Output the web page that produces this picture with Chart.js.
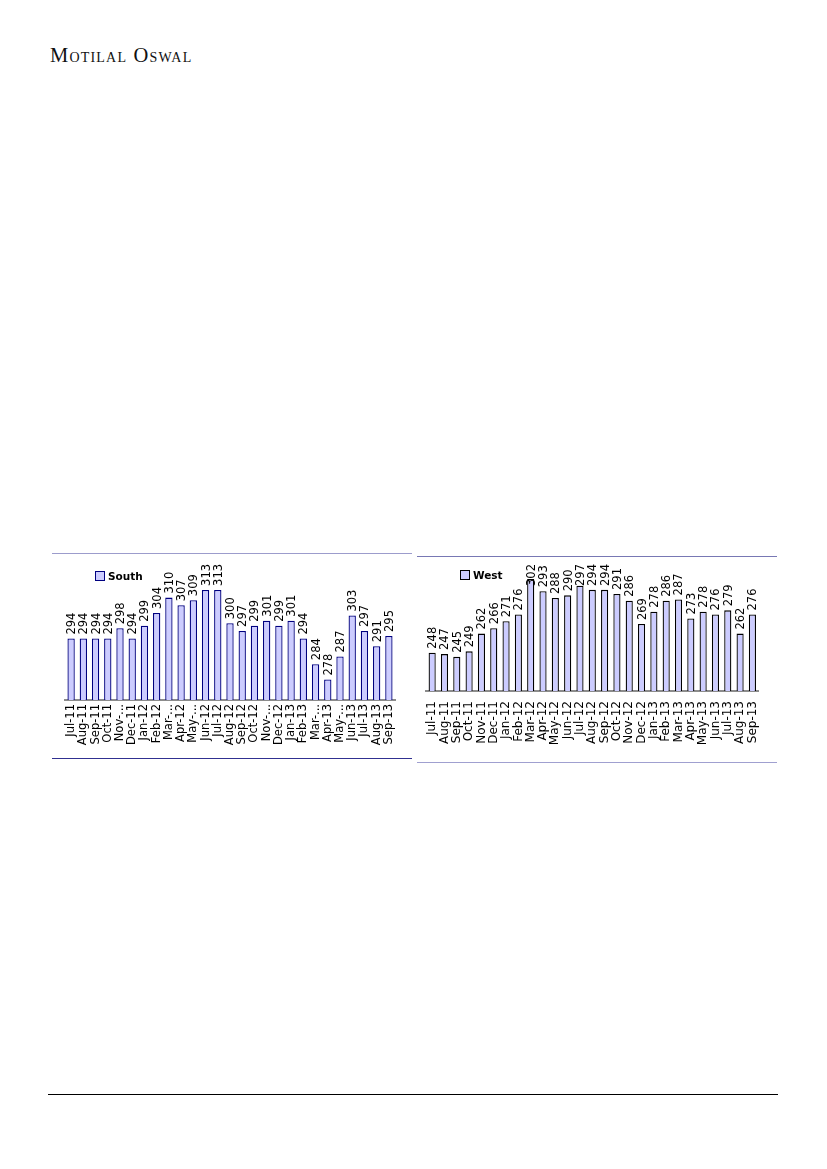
<!DOCTYPE html>
<html>
<head>
<meta charset="utf-8">
<script src="https://cdn.jsdelivr.net/npm/chart.js@4.4.0/dist/chart.umd.min.js"></script>
<style>
  body { margin: 0; background: #fff; width: 827px; height: 1169px; position: relative; font-family: "DejaVu Sans", sans-serif; }
  .brand { position: absolute; left: 50px; top: 44px; font-family: "Liberation Serif", serif; font-size: 20.5px; font-variant: small-caps; letter-spacing: 1.2px; color: #111; }
  .rule { position: absolute; height: 0; }
  .box { position: absolute; }
  .legend { position: absolute; font-size: 10.5px; font-weight: bold; color: #000; display: flex; align-items: center; }
  .legend span.sw { display: inline-block; width: 8px; height: 8px; background: #ccccff; margin-right: 3px; }
</style>
</head>
<body>
<div class="brand">Motilal Oswal</div>

<div class="rule" style="left:52px;top:553px;width:360px;border-top:1px solid #9c9ccc;"></div>
<div class="rule" style="left:52px;top:758px;width:360px;border-top:1px solid #303090;"></div>
<div class="rule" style="left:417px;top:556px;width:360px;border-top:1px solid #7878b4;"></div>
<div class="rule" style="left:417px;top:762px;width:360px;border-top:1px solid #a0a0d0;"></div>
<div class="rule" style="left:48px;top:1094px;width:730px;border-top:1.5px solid #000;"></div>

<div class="box" style="left:52px;top:556px;width:360px;height:200px;"><canvas id="southChart"></canvas></div>
<div class="box" style="left:417px;top:558px;width:360px;height:202px;"><canvas id="westChart"></canvas></div>

<div class="legend" style="left:95px;top:570px;"><span class="sw" style="border:1px solid #000080;"></span>South</div>
<div class="legend" style="left:460px;top:569px;"><span class="sw" style="border:1px solid #000;"></span>West</div>

<script>
// categorias y valores
const southLabels = ['Jul-11', 'Aug-11', 'Sep-11', 'Oct-11', 'Nov-...', 'Dec-11', 'Jan-12', 'Feb-12', 'Mar-...',
    'Apr-12', 'May-...', 'Jun-12', 'Jul-12', 'Aug-12', 'Sep-12', 'Oct-12', 'Nov-...', 'Dec-12', 'Jan-13',
    'Feb-13', 'Mar-...', 'Apr-13', 'May-...', 'Jun-13', 'Jul-13', 'Aug-13', 'Sep-13'];
const southValues = [294, 294, 294, 294, 298, 294, 299, 304, 310, 307, 309, 313, 313, 300, 297, 299, 301,
    299, 301, 294, 284, 278, 287, 303, 297, 291, 295];

const westLabels = ['Jul-11', 'Aug-11', 'Sep-11', 'Oct-11', 'Nov-11', 'Dec-11', 'Jan-12', 'Feb-12', 'Mar-12',
    'Apr-12', 'May-12', 'Jun-12', 'Jul-12', 'Aug-12', 'Sep-12', 'Oct-12', 'Nov-12', 'Dec-12', 'Jan-13',
    'Feb-13', 'Mar-13', 'Apr-13', 'May-13', 'Jun-13', 'Jul-13', 'Aug-13', 'Sep-13'];
const westValues = [248, 247, 245, 249, 262, 266, 271, 276, 302, 293, 288, 290, 297, 294, 294, 291, 286,
    269, 278, 286, 287, 273, 278, 276, 279, 262, 276];

// etiquetas de valor giradas sobre cada barra (se bajan si no caben arriba)
const valueLabels = {
    id: 'valueLabels',
    afterDatasetsDraw(chart, args, opts) {
        const ctx = chart.ctx;
        const meta = chart.getDatasetMeta(0);
        const data = chart.data.datasets[0].data;
        ctx.save();
        ctx.font = '11.5px "DejaVu Sans", sans-serif';
        ctx.fillStyle = '#000';
        ctx.textAlign = 'left';
        ctx.textBaseline = 'middle';
        meta.data.forEach((bar, i) => {
            const txt = String(data[i]);
            const w = ctx.measureText(txt).width;
            const y = Math.max(bar.y - 4, (opts.minTop || 0) + w);
            ctx.save();
            ctx.translate(bar.x + 1, y);
            ctx.rotate(-Math.PI / 2);
            ctx.fillText(txt, 0, 0);
            ctx.restore();
        });
        ctx.restore();
    }
};

function makeChart(id, labels, values, cfg) {
    const ctx = document.getElementById(id).getContext('2d');
    return new Chart(ctx, {
        type: 'bar',
        data: {
            labels: labels,
            datasets: [{
                data: values,
                backgroundColor: '#ccccff',
                borderColor: cfg.border,
                borderWidth: 1.3,
                barPercentage: cfg.barPct,
                categoryPercentage: 1
            }]
        },
        options: {
            responsive: true,
            maintainAspectRatio: false,
            animation: false,
            layout: { padding: cfg.padding },
            plugins: {
                legend: { display: false },
                tooltip: { enabled: false },
                valueLabels: { minTop: cfg.labelTop }
            },
            scales: {
                x: {
                    grid: { display: false, drawTicks: false },
                    border: { display: true, color: '#8c8c8c', width: 2 },
                    ticks: {
                        autoSkip: false, minRotation: 90, maxRotation: 90, padding: cfg.tickPad,
                        color: '#000', font: { family: 'DejaVu Sans', size: cfg.tickSize }
                    },
                    afterFit: (axis) => { axis.height = cfg.axisH; }
                },
                y: {
                    display: false,
                    min: cfg.min,
                    max: cfg.max
                }
            }
        },
        plugins: [valueLabels]
    });
}

makeChart('southChart', southLabels, southValues, {
    border: '#000080', barPct: 0.6, min: 270, max: 320, tickPad: 4, axisH: 56, tickSize: 11.5, labelTop: 2,
    padding: { left: 13, right: 17, top: 16, bottom: 0 }
});
makeChart('westChart', westLabels, westValues, {
    border: '#000', barPct: 0.58, min: 220, max: 310, tickPad: 10, axisH: 69, tickSize: 12, labelTop: 6,
    padding: { left: 9, right: 10, top: 10, bottom: 0 }
});
</script>
</body>
</html>
